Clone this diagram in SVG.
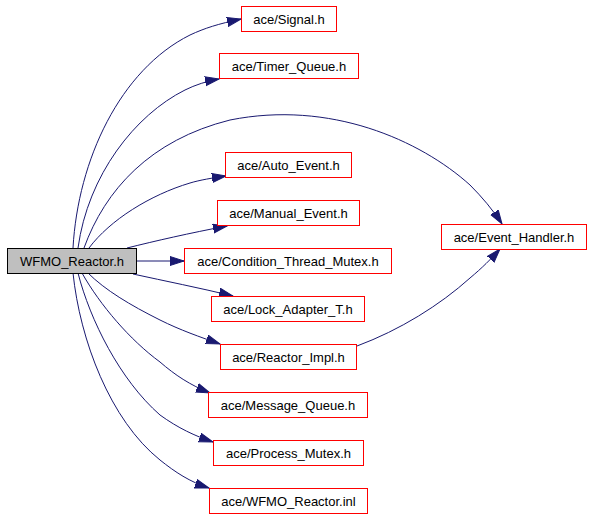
<svg xmlns="http://www.w3.org/2000/svg" width="592" height="517" viewBox="0 0 592 517">
<style>
.n rect{fill:#fff;stroke:#ff0000;stroke-width:1}
.n.root rect{fill:#bfbfbf;stroke:#000}
.n text{font-family:"Liberation Sans",Arial,sans-serif;font-size:13px;text-anchor:middle;fill:#000}
.e path{fill:none;stroke:#191970;stroke-width:1;marker-end:url(#ah)}
</style>
<defs>
<marker id="ah" markerUnits="userSpaceOnUse" markerWidth="15" markerHeight="11" refX="14" refY="5" orient="auto">
<path d="M0,0.5 L14,5 L0,9.5 z" fill="#191970" stroke="#191970" stroke-width="1"/>
</marker>
</defs>
<rect width="592" height="517" fill="#fff"/>
<g id="connectors" class="e">
<path d="M73,248 C78,160 120,70 190,35 C205,28 218,24 241,19"/>
<path d="M78,248 C88,175 135,115 185,90 C195,85 207,81 219,79"/>
<path d="M84,248 C105,190 150,140 230,120 C330,100 420,140 470,185 C482,197 493,210 502,224"/>
<path d="M89,248 C110,220 150,195 190,183 C200,180 212,178 226,176"/>
<path d="M127,248 C155,241 190,233 227,226"/>
<path d="M137,261 L184,261"/>
<path d="M133,274 C165,281 200,288 233,296"/>
<path d="M88,273 C105,290 130,305 160,320 C180,330 200,337 220,344"/>
<path d="M82,273 C100,305 130,340 160,362 C175,375 190,385 210,393"/>
<path d="M78,273 C90,320 120,380 160,415 C178,428 195,436 213,442"/>
<path d="M73,273 C80,340 110,420 160,460 C175,472 190,482 209,488"/>
<path d="M357,346 C400,330 440,305 470,278 C482,268 491,259 500,249"/>
</g>
<g id="n_wfmo" class="n root"><rect x="7.5" y="248.5" width="129" height="25"/><text x="72" y="265.5">WFMO_Reactor.h</text></g>
<g id="n_signal" class="n"><rect x="241.5" y="6.5" width="95" height="25"/><text x="289" y="23.5">ace/Signal.h</text></g>
<g id="n_timer" class="n"><rect x="219.5" y="53.5" width="139" height="25"/><text x="289" y="70.5">ace/Timer_Queue.h</text></g>
<g id="n_auto" class="n"><rect x="225.5" y="152.5" width="126" height="25"/><text x="288.5" y="169.5">ace/Auto_Event.h</text></g>
<g id="n_manual" class="n"><rect x="217.5" y="200.5" width="142" height="25"/><text x="288.5" y="217.5">ace/Manual_Event.h</text></g>
<g id="n_cond" class="n"><rect x="184.5" y="248.5" width="207" height="25"/><text x="288" y="265.5">ace/Condition_Thread_Mutex.h</text></g>
<g id="n_lock" class="n"><rect x="211.5" y="296.5" width="153" height="25"/><text x="288" y="313.5">ace/Lock_Adapter_T.h</text></g>
<g id="n_impl" class="n"><rect x="220.5" y="344.5" width="136" height="25"/><text x="288.5" y="361.5">ace/Reactor_Impl.h</text></g>
<g id="n_msgq" class="n"><rect x="208.5" y="392.5" width="159" height="25"/><text x="288" y="409.5">ace/Message_Queue.h</text></g>
<g id="n_pmutex" class="n"><rect x="213.5" y="440.5" width="150" height="25"/><text x="288.5" y="457.5">ace/Process_Mutex.h</text></g>
<g id="n_inl" class="n"><rect x="209.5" y="488.5" width="158" height="25"/><text x="288.5" y="505.5">ace/WFMO_Reactor.inl</text></g>
<g id="n_evh" class="n"><rect x="441.5" y="224.5" width="145" height="25"/><text x="514" y="241.5">ace/Event_Handler.h</text></g>
</svg>
